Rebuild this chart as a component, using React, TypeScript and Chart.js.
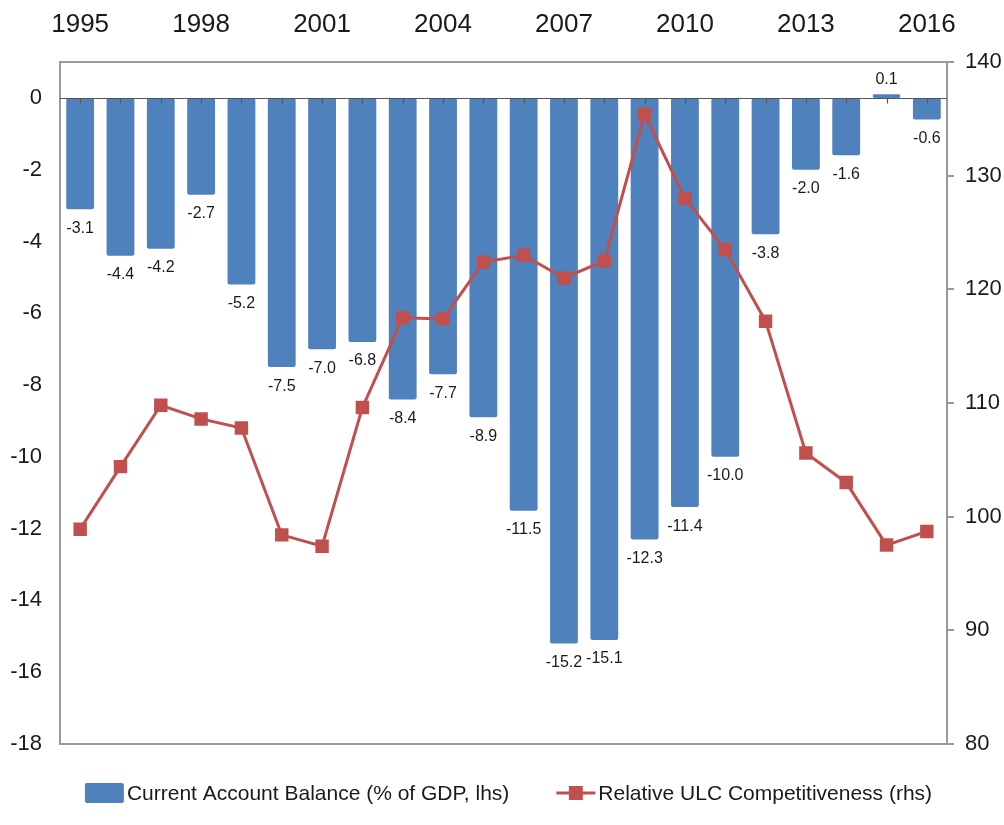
import React, { useEffect, useRef } from "react";
import { Chart, registerables } from "chart.js";

Chart.register(...registerables);

const years = [
  "1995", "1996", "1997", "1998", "1999", "2000", "2001", "2002", "2003", "2004", "2005",
  "2006", "2007", "2008", "2009", "2010", "2011", "2012", "2013", "2014", "2015", "2016",
];
const currentAccount = [
  -3.1, -4.4, -4.2, -2.7, -5.2, -7.5, -7.0, -6.8, -8.4, -7.7, -8.9,
  -11.5, -15.2, -15.1, -12.3, -11.4, -10.0, -3.8, -2.0, -1.6, 0.1, -0.6,
];
const ulcCompetitiveness = [
  98.9, 104.4, 109.8, 108.6, 107.8, 98.4, 97.4, 109.6, 117.5, 117.4, 122.4,
  123.0, 121.0, 122.5, 135.4, 128.0, 123.5, 117.2, 105.6, 103.0, 97.5, 98.7,
];
const leftTicks = [0, -2, -4, -6, -8, -10, -12, -14, -16, -18];
const rightTicks = [80, 90, 100, 110, 120, 130, 140];
const seriesNames = [
  "Current Account Balance (% of GDP, lhs)",
  "Relative ULC Competitiveness (rhs)",
];

const FONT = "'Liberation Sans', Arial, sans-serif";
const TEXT = "#1a1a1a";
const BAR = "#4f81bd";
const LINE = "#c0504d";
const BORDER = "#9a9a9a";

const PLOT_L = 60;
const PLOT_T = 62;
const PLOT_R_W = 1004 - 947;
const LEGEND_H = 825 - 744;

const decorPlugin = {
  id: "decor",
  beforeDatasetsDraw(chart: any) {
    const { ctx, chartArea } = chart;
    ctx.save();
    ctx.strokeStyle = BORDER;
    ctx.lineWidth = 2;
    ctx.strokeRect(chartArea.left, chartArea.top, chartArea.right - chartArea.left, chartArea.bottom - chartArea.top);
    ctx.restore();
  },
  afterDatasetDraw(chart: any, args: any) {
    if (args.index !== 0) return;
    const { ctx, chartArea } = chart;
    const y = chart.scales.y;
    const x = chart.scales.x;
    const y0 = Math.round(y.getPixelForValue(0)) + 0.5;
    ctx.save();
    ctx.strokeStyle = "#555555";
    ctx.lineWidth = 1.2;
    ctx.beginPath();
    ctx.moveTo(chartArea.left, y0);
    ctx.lineTo(chartArea.right, y0);
    for (let i = 0; i < years.length; i++) {
      const px = Math.round(x.getPixelForValue(i)) + 0.5;
      ctx.moveTo(px, y0);
      ctx.lineTo(px, y0 + 5);
    }
    ctx.stroke();
    // data labels
    const meta = chart.getDatasetMeta(0);
    ctx.fillStyle = TEXT;
    ctx.font = `16px ${FONT}`;
    ctx.textAlign = "center";
    meta.data.forEach((el: any, i: number) => {
      const v = currentAccount[i];
      const label = v.toFixed(1);
      if (v < 0) {
        ctx.textBaseline = "top";
        ctx.fillText(label, el.x, el.y + 11);
      } else {
        ctx.textBaseline = "bottom";
        ctx.fillText(label, el.x, el.y - 7);
      }
    });
    ctx.restore();
  },
  afterDraw(chart: any) {
    const { ctx, chartArea } = chart;
    ctx.save();
    ctx.font = `21px ${FONT}`;
    ctx.fillStyle = TEXT;
    ctx.textBaseline = "middle";
    ctx.textAlign = "left";
    const boxW = 39;
    const gapText = 3;
    const gapItems = 47;
    const w1 = ctx.measureText(seriesNames[0]).width;
    const w2 = ctx.measureText(seriesNames[1]).width;
    const total = boxW + gapText + w1 + gapItems + boxW + gapText + w2;
    const cx = (chartArea.left + chartArea.right) / 2 + 5;
    const x0 = cx - total / 2;
    const cy = chartArea.bottom + 49;
    ctx.fillStyle = BAR;
    ctx.beginPath();
    if ((ctx as any).roundRect) (ctx as any).roundRect(x0, cy - 10, boxW, 20, 2);
    else ctx.rect(x0, cy - 10, boxW, 20);
    ctx.fill();
    ctx.fillStyle = TEXT;
    ctx.fillText(seriesNames[0], x0 + boxW + gapText, cy + 1);
    const x1 = x0 + boxW + gapText + w1 + gapItems;
    ctx.strokeStyle = LINE;
    ctx.lineWidth = 3;
    ctx.beginPath();
    ctx.moveTo(x1, cy);
    ctx.lineTo(x1 + boxW, cy);
    ctx.stroke();
    ctx.fillStyle = LINE;
    ctx.fillRect(x1 + boxW / 2 - 7, cy - 7, 14, 14);
    ctx.fillStyle = TEXT;
    ctx.fillText(seriesNames[1], x1 + boxW + gapText, cy + 1);
    ctx.restore();
  },
};

export default function App() {
  const ref = useRef<HTMLCanvasElement | null>(null);
  useEffect(() => {
    if (!ref.current) return;
    const chart = new Chart(ref.current, {
      type: "bar",
      data: {
        labels: years,
        datasets: [
          {
            type: "bar",
            label: seriesNames[0],
            data: currentAccount,
            backgroundColor: BAR,
            borderWidth: 0,
            borderRadius: 2,
            borderSkipped: false,
            barPercentage: 0.69,
            categoryPercentage: 1,
            yAxisID: "y",
            order: 2,
          },
          {
            type: "line",
            label: seriesNames[1],
            data: ulcCompetitiveness,
            borderColor: LINE,
            backgroundColor: LINE,
            borderWidth: 3,
            pointStyle: "rect",
            pointRadius: 9.5,
            pointHoverRadius: 9.5,
            pointBorderWidth: 0,
            tension: 0,
            yAxisID: "y1",
            order: 1,
          },
        ],
      },
      options: {
        responsive: true,
        maintainAspectRatio: false,
        animation: false,
        layout: { padding: { left: 0, right: 0, top: 0, bottom: LEGEND_H } },
        plugins: {
          legend: { display: false },
          tooltip: { enabled: false },
        },
        scales: {
          x: {
            position: "top",
            offset: true,
            grid: { display: false, drawTicks: false },
            border: { display: false },
            ticks: {
              autoSkip: false,
              maxRotation: 0,
              padding: 22,
              color: TEXT,
              font: { family: FONT, size: 26 },
              callback: (_v: any, i: number) => (i % 3 === 0 ? years[i] : ""),
            },
            afterFit: (s: any) => {
              s.height = PLOT_T;
            },
          },
          y: {
            position: "left",
            min: -18,
            max: 1,
            grid: { display: false, drawTicks: false },
            border: { display: false },
            afterBuildTicks: (s: any) => {
              s.ticks = leftTicks.map((v) => ({ value: v }));
            },
            ticks: {
              padding: 18,
              color: TEXT,
              font: { family: FONT, size: 22 },
              callback: (v: any) => String(v),
            },
            afterFit: (s: any) => {
              s.width = PLOT_L;
            },
          },
          y1: {
            position: "right",
            min: 80,
            max: 140,
            grid: {
              display: true,
              drawOnChartArea: false,
              drawTicks: true,
              tickLength: 7,
              color: BORDER,
              lineWidth: 2,
            },
            border: { display: false },
            afterBuildTicks: (s: any) => {
              s.ticks = rightTicks.map((v) => ({ value: v }));
            },
            ticks: {
              padding: 11,
              color: TEXT,
              font: { family: FONT, size: 22 },
              callback: (v: any) => String(v),
            },
            afterFit: (s: any) => {
              s.width = PLOT_R_W;
            },
          },
        },
      },
      plugins: [decorPlugin],
    });
    return () => chart.destroy();
  }, []);
  return (
    <div style={{ position: "fixed", left: 0, top: 0, width: 1004, height: 825, background: "#fff" }}>
      <canvas ref={ref} />
    </div>
  );
}
